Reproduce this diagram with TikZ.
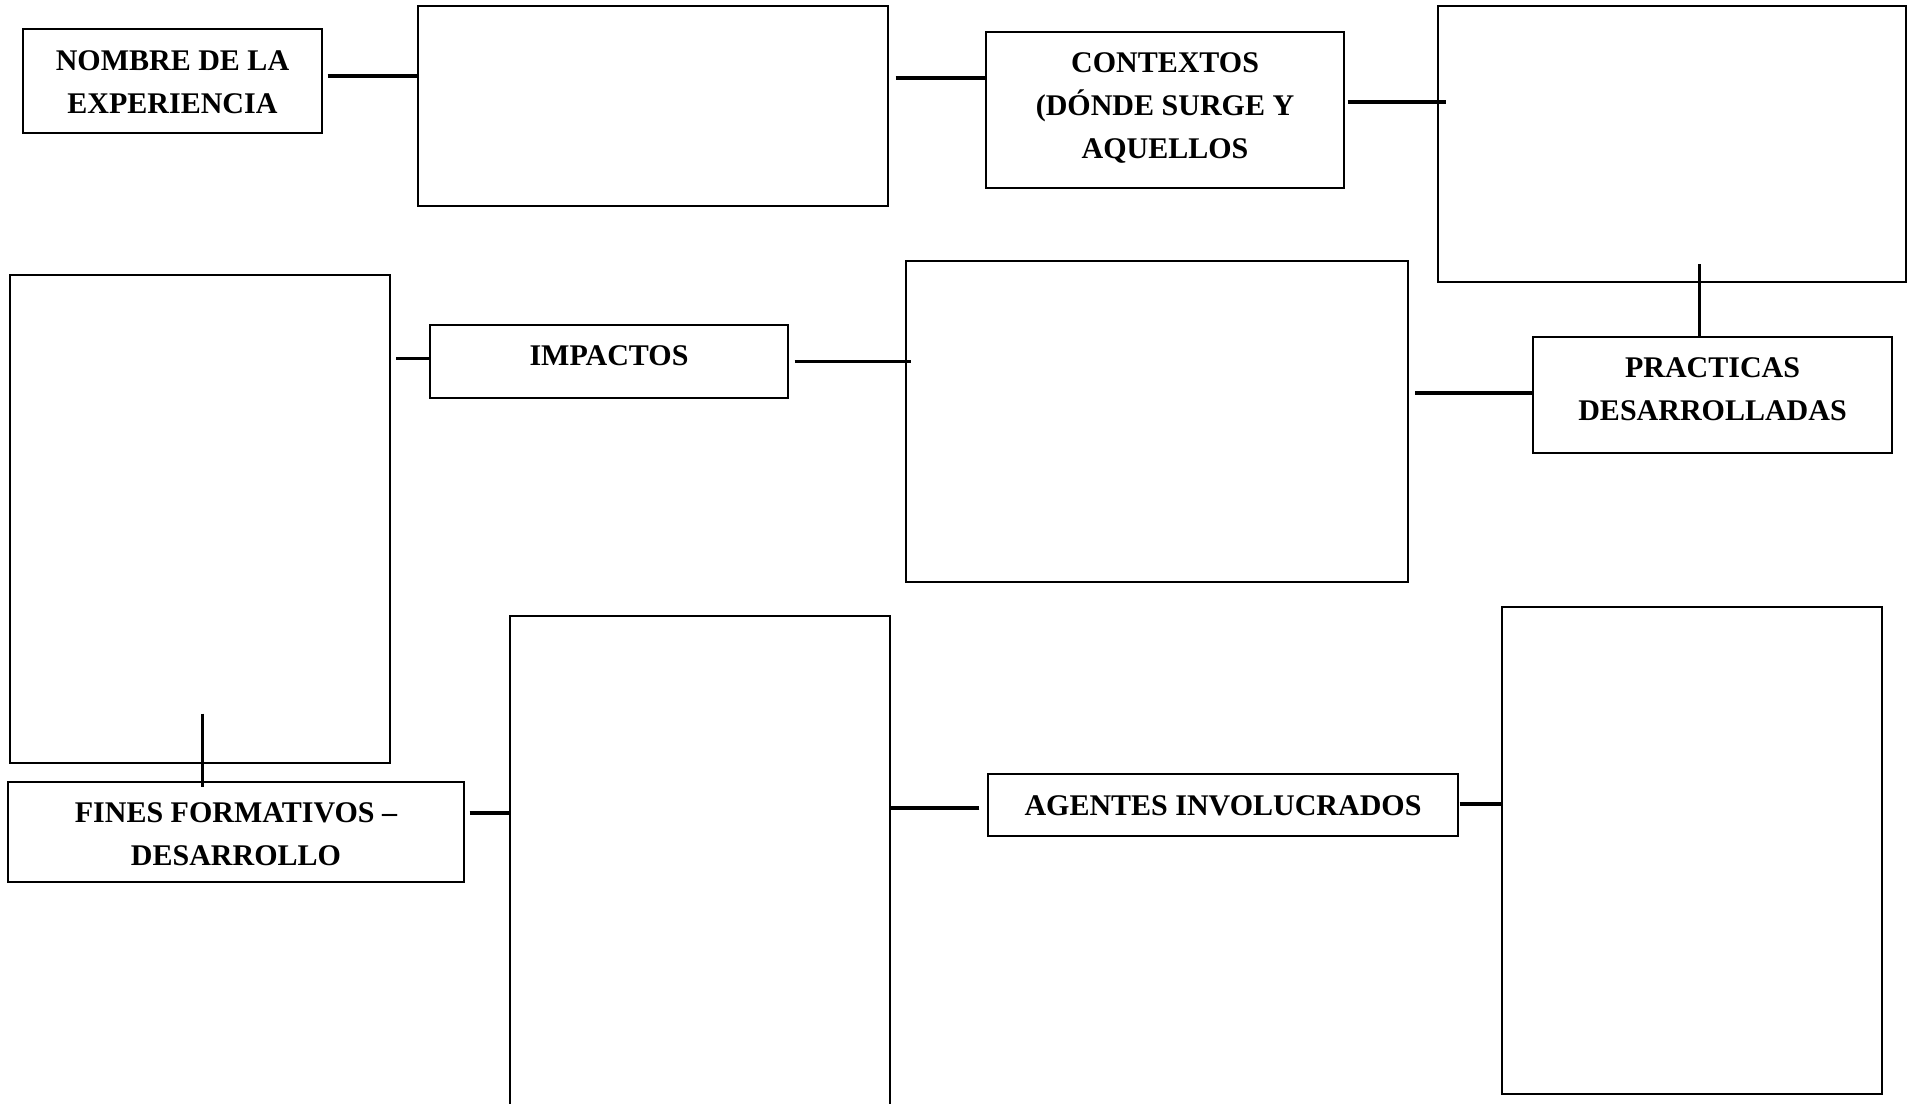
\documentclass[tikz,border=0pt]{standalone}
\usepackage{fontspec}
\setmainfont{Liberation Serif}
\usepackage{tikz}
\usetikzlibrary{fit}

\begin{document}
\begin{tikzpicture}[x=0.5pt, y=-0.5pt,
		box/.style={draw, line width=0.6pt, inner sep=0pt},
		lbl/.style={inner sep=0pt, align=center, font=\bfseries\fontsize{15}{21.5}\selectfont},
		link/.style={line width=1.9pt},
		vlink/.style={line width=1.5pt}]
		\useasboundingbox (0,0) rectangle (1914,1103);
		\clip (0,0) rectangle (1914,1103);
		
		\node [box, fit={(23,29) (322,133)}] (nombre) {};
		\node [box, fit={(418,6) (888,206)}] (boxb) {};
		\node [box, fit={(986,32) (1344,188)}] (contextos) {};
		\node [box, fit={(1438,6) (1906,282)}] (boxd) {};
		\node [box, fit={(1533,337) (1892,453)}] (practicas) {};
		\node [box, fit={(906,261) (1408,582)}] (boxe) {};
		\node [box, fit={(430,325) (788,398)}] (impactos) {};
		\node [box, fit={(10,275) (390,763)}] (boxf) {};
		\node [box, fit={(8,782) (464,882)}] (fines) {};
		\node [box, fit={(510,616) (890,1125)}] (boxg) {};
		\node [box, fit={(988,774) (1458,836)}] (agentes) {};
		\node [box, fit={(1502,607) (1882,1094)}] (boxh) {};
		
		\node [lbl] (nombre-t) at ([shift={(0,1)}]nombre.center) {NOMBRE DE LA\\EXPERIENCIA};
		\node [lbl] (contextos-t) at ([shift={(0,-2)}]contextos.center) {CONTEXTOS\\(DÓNDE SURGE Y\\AQUELLOS};
		\node [lbl] (practicas-t) at ([shift={(0,-6)}]practicas.center) {PRACTICAS\\DESARROLLADAS};
		\node [lbl] (impactos-t) at ([shift={(0,-6)}]impactos.center) {IMPACTOS};
		\node [lbl] (fines-t) at ([shift={(0,2)}]fines.center) {FINES FORMATIVOS --\\DESARROLLO};
		\node [lbl] (agentes-t) at ([shift={(0,1)}]agentes.center) {AGENTES INVOLUCRADOS};
		
		\coordinate (c1) at ([shift={(5,-5)}]nombre.east);
		\coordinate (c2) at ([shift={(7,-28)}]boxb.east);
		\coordinate (c3) at ([shift={(3,-8)}]contextos.east);
		\coordinate (c4) at ([shift={(-13.5,0)}]practicas.north);
		\coordinate (c5) at ([shift={(0,-2)}]practicas.west);
		\coordinate (c6) at ([shift={(6,0)}]impactos.east);
		\coordinate (c7) at ([shift={(0,-3)}]impactos.west);
		\coordinate (c8) at ([shift={(2,-50)}]boxf.south);
		\coordinate (c9) at ([shift={(5,-19)}]fines.east);
		\coordinate (c10) at ([shift={(0,3)}]agentes.west);
		\coordinate (c11) at ([shift={(1,-1)}]agentes.east);
		
		\draw [link] (c1) -- (c1 -| boxb.west);
		\draw [link] (c2) -- (c2 -| contextos.west);
		\draw [link, shorten >=-4.5pt] (c3) -- (c3 -| boxd.west);
		\draw [vlink, shorten >=-9.5pt] (c4) -- (c4 |- boxd.south);
		\draw [link, shorten >=3pt] (c5) -- (c5 -| boxe.east);
		\draw [link, shorten >=-3pt] (c6) -- (c6 -| boxe.west);
		\draw [link, shorten >=2.5pt] (c7) -- (c7 -| boxf.east);
		\draw [vlink, shorten >=-3pt] (c8) -- (c8 |- fines.north);
		\draw [link] (c9) -- (c9 -| boxg.west);
		\draw [link, shorten <=4pt] (c10) -- (c10 -| boxg.east);
		\draw [link, shorten >=-1pt] (c11) -- (c11 -| boxh.west);
		
	\end{tikzpicture}
\end{document}
